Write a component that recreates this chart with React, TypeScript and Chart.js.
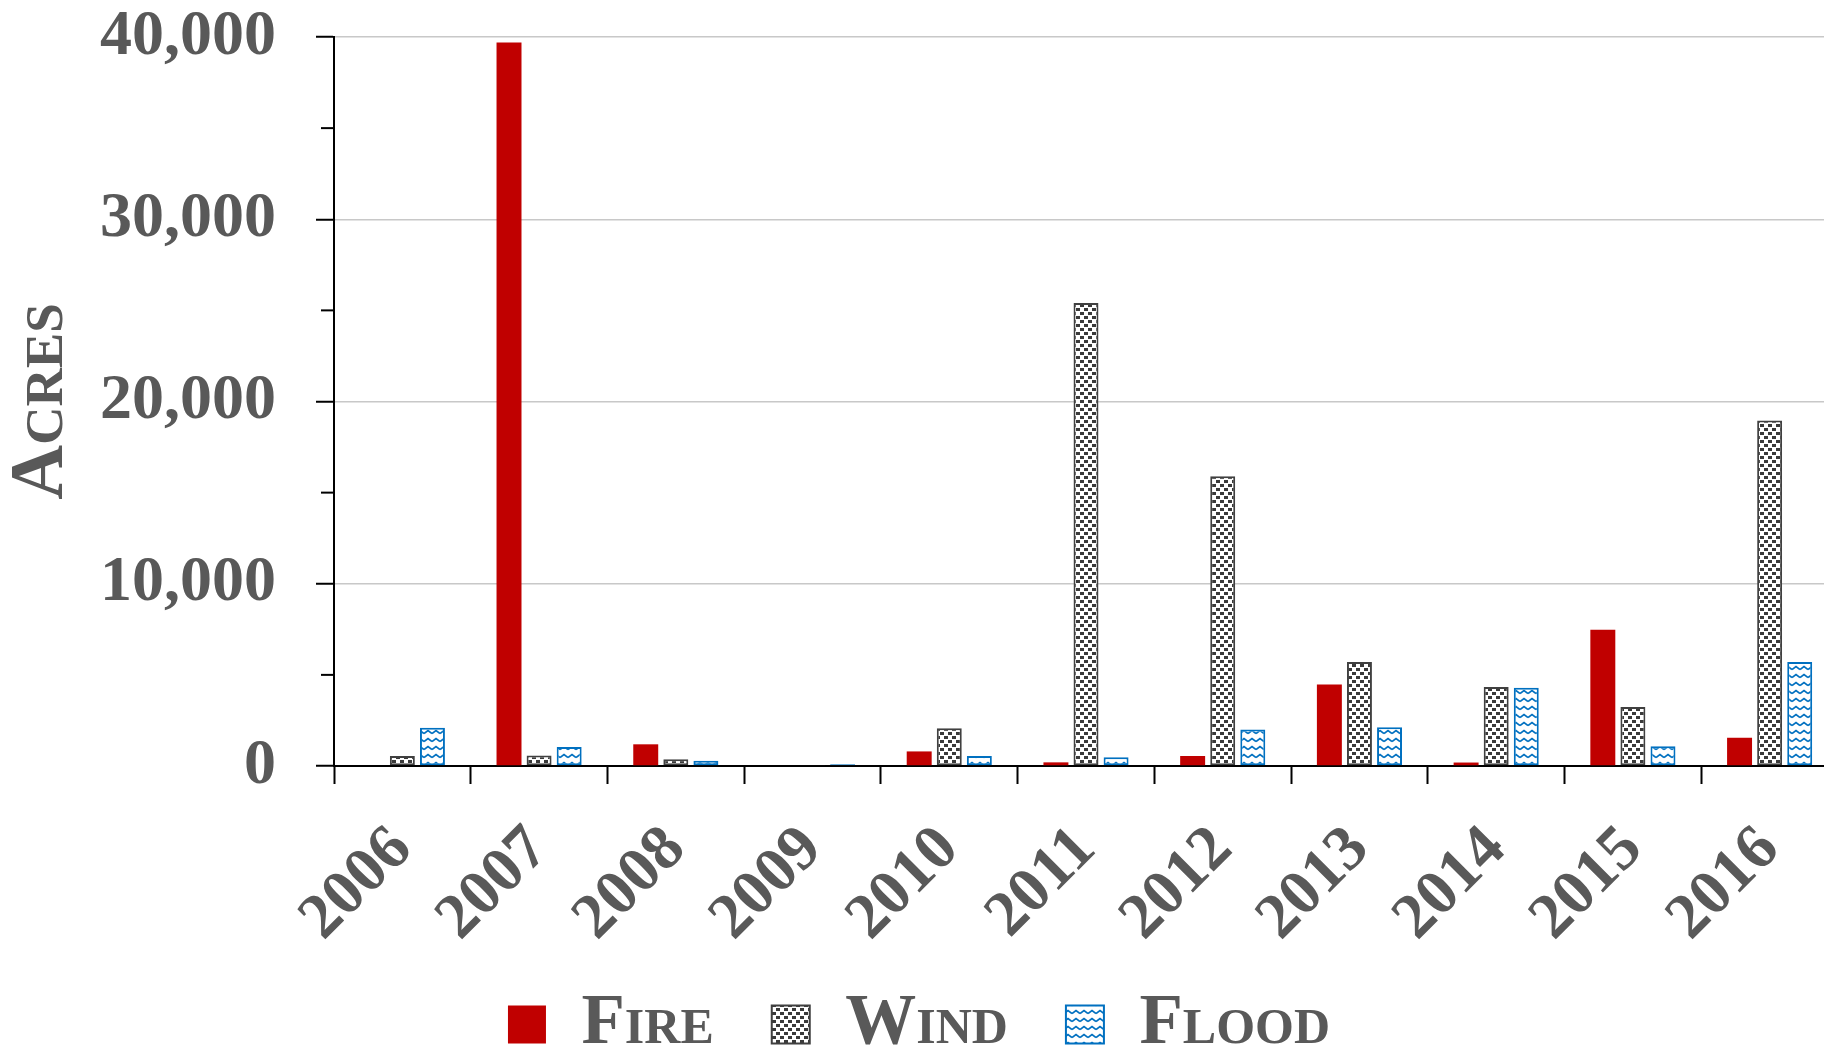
import React, { useEffect, useRef } from 'react';
import { Chart, registerables } from 'chart.js';

Chart.register(...registerables);

const YEARS = ['2006', '2007', '2008', '2009', '2010', '2011', '2012', '2013', '2014', '2015', '2016'];
const FIRE = [0, 39700, 1190, 0, 800, 200, 550, 4470, 190, 7480, 1550];
const WIND = [550, 580, 370, 30, 2070, 25400, 15900, 5710, 4340, 3240, 18960];
const FLOOD = [2100, 1040, 290, 100, 550, 480, 2000, 2130, 4300, 1080, 5710];
const SERIES_NAMES = ['Fire', 'Wind', 'Flood'];
const Y_MAX = 40000;
const Y_STEP = 10000;
const MINOR_TICKS = [5000, 15000, 25000, 35000];
const AXIS_TITLE = 'Acres';

const FONT = "'Liberation Serif', 'Times New Roman', serif";
const TEXT = '#595959';
const FIRE_COLOR = '#C00000';
const WIND_COLOR = '#404040';
const FLOOD_COLOR = '#0070C0';

function windPattern(ctx: CanvasRenderingContext2D) {
  const c = document.createElement('canvas');
  c.width = 8;
  c.height = 8;
  const g = c.getContext('2d')!;
  g.fillStyle = '#ffffff';
  g.fillRect(0, 0, 8, 8);
  g.fillStyle = '#3a3a3a';
  g.fillRect(0, 0, 4, 3);
  g.fillRect(4, 4, 4, 3);
  return ctx.createPattern(c, 'repeat')!;
}

function floodPattern(ctx: CanvasRenderingContext2D) {
  const c = document.createElement('canvas');
  c.width = 8;
  c.height = 8;
  const g = c.getContext('2d')!;
  g.fillStyle = '#ffffff';
  g.fillRect(0, 0, 8, 8);
  g.strokeStyle = FLOOD_COLOR;
  g.lineWidth = 1.6;
  g.beginPath();
  g.moveTo(0, 5.5);
  g.lineTo(4, 2.5);
  g.lineTo(8, 5.5);
  g.stroke();
  return ctx.createPattern(c, 'repeat')!;
}

export default function App() {
  const ref = useRef<HTMLCanvasElement | null>(null);

  useEffect(() => {
    const canvas = ref.current!;
    const ctx = canvas.getContext('2d')!;

    const minorTicks = {
      id: 'minorTicks',
      afterDraw(chart: any) {
        const y = chart.scales.y;
        const c = chart.ctx;
        c.save();
        c.strokeStyle = '#000';
        c.lineWidth = 2;
        MINOR_TICKS.forEach((v) => {
          const py = y.getPixelForValue(v);
          c.beginPath();
          c.moveTo(y.right - 13, py);
          c.lineTo(y.right, py);
          c.stroke();
        });
        c.restore();
      },
    };

    const layoutFix = {
      id: 'layoutFix',
      afterInit(chart: any) {
        const lg = chart.legend;
        if (!lg) return;
        const orig = lg.fit;
        lg.fit = function () {
          orig.call(this);
          this.height = 117;
        };
      },
      beforeDraw(chart: any) {
        const x = chart.scales.x;
        if (x) x._computeLabelArea = () => undefined;
      },
    };

    const chart = new Chart(ctx, {
      type: 'bar',
      data: {
        labels: YEARS,
        datasets: [
          {
            label: SERIES_NAMES[0],
            data: FIRE,
            backgroundColor: FIRE_COLOR,
            borderWidth: 0,
          },
          {
            label: SERIES_NAMES[1],
            data: WIND,
            backgroundColor: windPattern(ctx),
            borderColor: WIND_COLOR,
            borderWidth: 2,
            borderSkipped: false,
          },
          {
            label: SERIES_NAMES[2],
            data: FLOOD,
            backgroundColor: floodPattern(ctx),
            borderColor: FLOOD_COLOR,
            borderWidth: 2,
            borderSkipped: false,
          },
        ],
      },
      options: {
        responsive: false,
        devicePixelRatio: 1,
        animation: false,
        layout: { padding: { top: 37, right: 2, left: 0, bottom: 0 } },
        datasets: {
          bar: { categoryPercentage: 0.66, barPercentage: 0.83 },
        },
        plugins: {
          tooltip: { enabled: false },
          legend: {
            position: 'bottom',
            labels: {
              color: TEXT,
              font: { family: FONT, size: 71, weight: 'small-caps bold' as any },
              boxWidth: 38,
              boxHeight: 38,
              padding: 58,
            },
          },
        },
        scales: {
          x: {
            grid: {
              offset: true,
              drawOnChartArea: false,
              drawTicks: true,
              tickLength: 18,
              tickColor: '#000',
              tickWidth: 2,
              color: '#000',
            },
            border: { color: '#000', width: 2 },
            ticks: {
              color: TEXT,
              font: { family: FONT, size: 64, weight: 'bold' },
              maxRotation: 45,
              minRotation: 45,
              autoSkip: false,
              padding: 28,
            },
            afterFit(scale: any) {
              scale.height = 165;
              scale.paddingLeft = 0;
              scale.paddingRight = 0;
            },
          },
          y: {
            min: 0,
            max: Y_MAX,
            ticks: {
              stepSize: Y_STEP,
              color: TEXT,
              font: { family: FONT, size: 64, weight: 'bold', lineHeight: 1 },
              padding: 40,
            },
            grid: {
              color: (c: any) => (c.tick && c.tick.value === 0 ? 'rgba(0,0,0,0)' : '#c8c8c8'),
              lineWidth: 1.5,
              tickColor: '#000',
              tickLength: 18,
              tickWidth: 2,
            },
            border: { color: '#000', width: 2 },
            title: {
              display: true,
              text: AXIS_TITLE,
              color: TEXT,
              font: { family: FONT, size: 76, weight: 'small-caps bold' as any, lineHeight: 1 },
              padding: { top: 4, bottom: 0 },
            },
            afterFit(scale: any) {
              scale.width = 334;
              scale.paddingTop = 0;
              scale.paddingBottom = 0;
            },
          },
        },
      },
      plugins: [minorTicks, layoutFix],
    });

    return () => chart.destroy();
  }, []);

  return (
    <div
      style={{
        position: 'absolute',
        left: 0,
        top: 0,
        width: 1824,
        height: 1048,
        overflow: 'hidden',
        background: '#fff',
      }}
    >
      <canvas ref={ref} width={1840} height={1048} style={{ display: 'block', width: 1840, height: 1048 }} />
    </div>
  );
}
